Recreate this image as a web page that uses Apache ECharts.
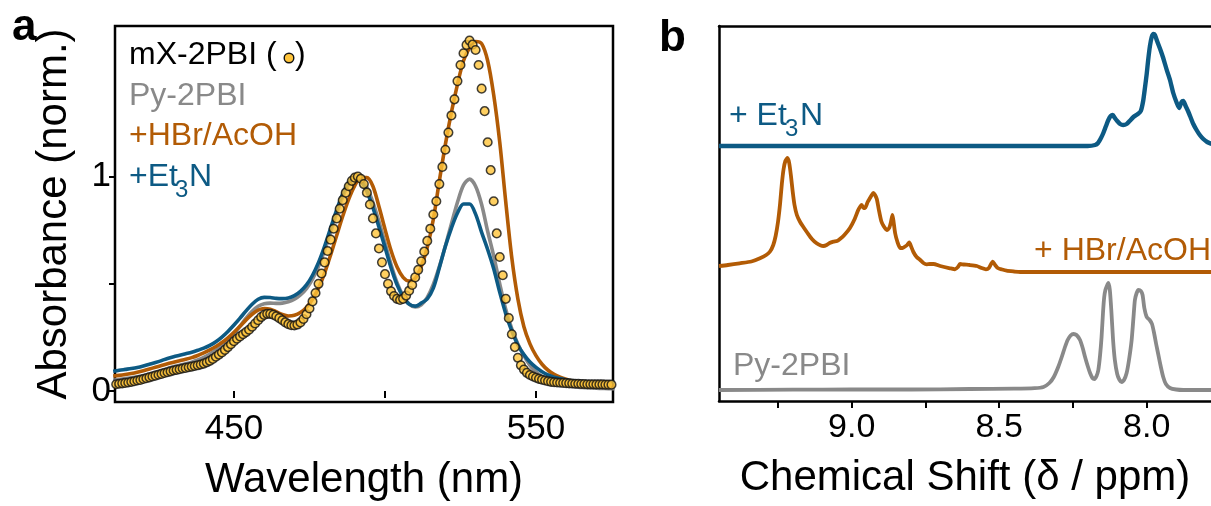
<!DOCTYPE html>
<html>
<head>
<meta charset="utf-8">
<script src="https://cdn.jsdelivr.net/npm/echarts@6/dist/echarts.min.js"></script>
<style>
  html, body { margin: 0; padding: 0; background: #fff; }
  #chart { width: 1211px; height: 506px; }
</style>
</head>
<body>
<div id="chart"></div>
<script>
// ---------- UV-vis absorption (panel a) ----------
// solid traces sampled every 2 nm starting at 410 nm
const uvLineStartNm = 410;
const uvLineStepNm = 2;
const absPy2PBI = [
  0.050, 0.054, 0.058, 0.062, 0.067, 0.073, 0.080, 0.088, 0.096, 0.105,
  0.113, 0.120, 0.127, 0.135, 0.145, 0.157, 0.172, 0.190, 0.212, 0.238,
  0.268, 0.303, 0.340, 0.372, 0.395, 0.407, 0.410, 0.409, 0.410, 0.416,
  0.428, 0.448, 0.478, 0.522, 0.582, 0.655, 0.740, 0.828, 0.905, 0.965,
  0.997, 0.990, 0.950, 0.880, 0.790, 0.690, 0.590, 0.505, 0.443, 0.405,
  0.392, 0.402, 0.437, 0.497, 0.580, 0.677, 0.780, 0.880, 0.960, 0.988,
  0.955, 0.870, 0.745, 0.630, 0.500, 0.380, 0.290, 0.220, 0.165, 0.120,
  0.090, 0.068, 0.052, 0.040, 0.032, 0.026, 0.021, 0.018, 0.016, 0.014,
  0.013, 0.012, 0.011, 0.011
];
const absHBr = [
  0.070, 0.073, 0.077, 0.082, 0.088, 0.095, 0.103, 0.111, 0.119, 0.127,
  0.134, 0.141, 0.148, 0.156, 0.166, 0.178, 0.192, 0.208, 0.226, 0.248,
  0.274, 0.302, 0.332, 0.358, 0.377, 0.385, 0.382, 0.370, 0.357, 0.350,
  0.353, 0.366, 0.390, 0.428, 0.480, 0.550, 0.635, 0.725, 0.815, 0.895,
  0.958, 0.995, 0.995, 0.955, 0.860, 0.755, 0.655, 0.578, 0.530, 0.513,
  0.525, 0.580, 0.670, 0.800, 0.980, 1.150, 1.300, 1.430, 1.540, 1.600,
  1.630, 1.620, 1.540, 1.380, 1.160, 0.880, 0.620, 0.430, 0.300, 0.220,
  0.165, 0.125, 0.097, 0.078, 0.065, 0.055, 0.047, 0.041, 0.036, 0.032,
  0.029, 0.027, 0.025, 0.025
];
const absEt3N = [
  0.092, 0.097, 0.101, 0.105, 0.110, 0.117, 0.125, 0.133, 0.142, 0.152,
  0.160, 0.167, 0.174, 0.181, 0.190, 0.200, 0.213, 0.230, 0.252, 0.278,
  0.308, 0.340, 0.374, 0.405, 0.428, 0.437, 0.436, 0.432, 0.431, 0.434,
  0.445, 0.465, 0.495, 0.540, 0.600, 0.675, 0.760, 0.845, 0.920, 0.975,
  0.998, 0.980, 0.930, 0.855, 0.765, 0.670, 0.575, 0.495, 0.440, 0.405,
  0.396, 0.410, 0.430, 0.480, 0.575, 0.675, 0.760, 0.830, 0.872, 0.872,
  0.825, 0.740, 0.660, 0.570, 0.460, 0.360, 0.280, 0.215, 0.170, 0.135,
  0.110, 0.090, 0.075, 0.065, 0.058, 0.052, 0.048, 0.045, 0.043, 0.042,
  0.041, 0.040, 0.040, 0.040
];
// open-circle trace sampled every 1 nm starting at 410 nm
const dotStartNm = 410;
const absMX2PBI = [
  0.030, 0.032, 0.034, 0.036, 0.038, 0.040, 0.043, 0.046, 0.049, 0.052,
  0.056, 0.060, 0.064, 0.068, 0.072, 0.076, 0.080, 0.084, 0.088, 0.092,
  0.096, 0.099, 0.102, 0.105, 0.108, 0.111, 0.114, 0.117, 0.120, 0.124,
  0.128, 0.134, 0.141, 0.150, 0.160, 0.170, 0.180, 0.192, 0.205, 0.218,
  0.232, 0.244, 0.255, 0.265, 0.275, 0.286, 0.300, 0.315, 0.330, 0.345,
  0.355, 0.360, 0.360, 0.356, 0.349, 0.340, 0.330, 0.320, 0.312, 0.307,
  0.306, 0.310, 0.320, 0.336, 0.358, 0.385, 0.418, 0.457, 0.500, 0.548,
  0.600, 0.653, 0.706, 0.757, 0.805, 0.850, 0.890, 0.925, 0.955, 0.980,
  0.995, 1.000, 0.990, 0.965, 0.925, 0.870, 0.805, 0.735, 0.665, 0.600,
  0.545, 0.500, 0.465, 0.443, 0.430, 0.425, 0.430, 0.445, 0.468, 0.495,
  0.530, 0.565, 0.605, 0.650, 0.700, 0.757, 0.823, 0.885, 0.965, 1.045,
  1.125, 1.205, 1.285, 1.360, 1.445, 1.520, 1.575, 1.614, 1.634, 1.615,
  1.590, 1.520, 1.410, 1.305, 1.160, 1.030, 0.885, 0.735, 0.625, 0.540,
  0.430, 0.340, 0.265, 0.205, 0.155, 0.120, 0.100, 0.085, 0.075, 0.068,
  0.062, 0.057, 0.053, 0.049, 0.046, 0.043, 0.041, 0.040, 0.039, 0.038,
  0.037, 0.036, 0.035, 0.034, 0.034, 0.033, 0.033, 0.032, 0.032, 0.032,
  0.031, 0.031, 0.031, 0.030, 0.030, 0.030
];
const nmTicks = [450, 500, 550];
const nmTickLabels = [450, 550];
const absTicks = [0, 0.5, 1];
const absTickLabels = [0, 1];

// ---------- 1H NMR, aromatic region (panel b) ----------
// [chemical shift (ppm), intensity above the trace's own baseline]
const nmrPy2PBI = [
  [9.45, 0], [9.2, 0.3], [9.0, 0.5], [8.8, 0.5], [8.6, 1], [8.45, 1.3], [8.38, 1.8],
  [8.35, 3], [8.33, 7], [8.315, 13], [8.30, 23], [8.288, 33], [8.277, 43], [8.268, 50],
  [8.258, 54.5], [8.248, 56], [8.238, 55], [8.226, 50], [8.217, 42], [8.209, 33],
  [8.200, 24], [8.192, 17], [8.184, 12], [8.177, 11], [8.170, 14], [8.164, 20],
  [8.158, 35], [8.153, 53], [8.148, 78], [8.144, 93], [8.140, 100], [8.135, 104],
  [8.130, 107], [8.125, 100], [8.120, 80], [8.114, 50], [8.108, 30], [8.100, 16],
  [8.092, 10], [8.085, 8], [8.077, 10], [8.068, 17], [8.060, 30], [8.051, 50],
  [8.045, 72], [8.040, 90], [8.034, 97], [8.028, 100], [8.020, 99], [8.014, 95],
  [8.008, 82], [8.000, 73], [7.990, 70], [7.982, 66], [7.975, 57], [7.968, 46],
  [7.961, 36], [7.952, 23], [7.944, 13], [7.935, 6], [7.921, 2], [7.90, 0.5],
  [7.876, 0], [7.78, 0]
];
const nmrHBr = [
  [9.45, 6], [9.42, 7], [9.38, 8.7], [9.34, 10.5], [9.311, 13.7], [9.29, 17], [9.277, 20.5],
  [9.266, 27], [9.258, 36], [9.250, 50], [9.243, 68], [9.237, 88], [9.231, 103],
  [9.225, 111], [9.218, 114], [9.212, 109], [9.206, 96], [9.200, 80], [9.194, 67],
  [9.186, 57], [9.175, 50], [9.164, 45], [9.150, 39], [9.135, 33], [9.119, 28.7],
  [9.105, 26.5], [9.096, 26], [9.085, 27], [9.075, 29], [9.062, 30.3], [9.050, 31],
  [9.040, 33], [9.025, 37], [9.006, 44], [8.990, 53], [8.978, 62], [8.970, 66],
  [8.966, 67], [8.960, 64], [8.955, 64], [8.946, 70], [8.938, 74], [8.932, 77],
  [8.927, 79], [8.921, 77], [8.915, 73], [8.908, 62], [8.900, 51], [8.892, 46],
  [8.881, 42], [8.873, 44], [8.867, 50], [8.862, 57], [8.858, 50], [8.853, 39],
  [8.845, 30], [8.836, 24], [8.828, 24], [8.819, 25.5], [8.812, 27], [8.805, 29.5],
  [8.798, 25], [8.791, 20], [8.780, 15], [8.768, 12], [8.757, 9], [8.746, 7.7],
  [8.735, 8], [8.723, 8], [8.700, 6], [8.667, 3.7], [8.650, 2.7], [8.640, 5],
  [8.633, 8], [8.620, 7.5], [8.600, 7], [8.576, 6], [8.560, 4], [8.545, 2.7],
  [8.535, 4], [8.522, 10.3], [8.514, 7], [8.505, 4], [8.490, 2.5], [8.475, 1.3],
  [8.450, 0.5], [8.429, 0], [7.78, 0]
];
const nmrEt3N = [
  [9.45, 0], [8.80, 0], [8.50, 0], [8.20, 0], [8.175, 1], [8.165, 3], [8.155, 8],
  [8.147, 13], [8.138, 20], [8.130, 26], [8.122, 30], [8.115, 31], [8.108, 28],
  [8.100, 25], [8.090, 22], [8.080, 21], [8.068, 22], [8.058, 25], [8.045, 29],
  [8.030, 32], [8.020, 35], [8.012, 45], [8.006, 58], [8.000, 72], [7.995, 86],
  [7.989, 100], [7.983, 109], [7.977, 112], [7.972, 111], [7.966, 106], [7.961, 102],
  [7.952, 95], [7.944, 88], [7.932, 76], [7.921, 66], [7.910, 53], [7.898, 43],
  [7.890, 38], [7.882, 44], [7.876, 45], [7.868, 40], [7.860, 35], [7.853, 30],
  [7.842, 22], [7.831, 16], [7.820, 11], [7.808, 7], [7.795, 4], [7.78, 2]
];
const ppmTicks = [9.25, 9.0, 8.75, 8.5, 8.25, 8.0];
const ppmTickLabels = [9.0, 8.5, 8.0];

// ---------- styling ----------
const FONT = '"Liberation Sans", Arial, Helvetica, sans-serif';
const C_GRAY = '#898989';
const C_ORANGE = '#B25B05';
const C_BLUE = '#0D5A84';
const C_DOT = '#FFC43A';
const INK = '#000';

// vertical stacking of the three NMR traces (y axis runs 0–375)
const stackBase = { py: 11, hbr: 129, et3n: 255 };

const sampled = (start, step, values) => values.map((v, i) => [start + i * step, v]);
const lifted = (pts, base) => pts.map(([x, y]) => [x, y + base]);

const chart = echarts.init(document.getElementById('chart'), null, { renderer: 'canvas' });

const uvLine = (name, values, color, z) => ({
  name, type: 'line', xAxisIndex: 0, yAxisIndex: 0, z,
  data: sampled(uvLineStartNm, uvLineStepNm, values),
  showSymbol: false, symbol: 'none', smooth: 0.3,
  lineStyle: { color, width: 3.6 }, silent: true
});
const nmrLine = (name, pts, base, color, z, width) => ({
  name, type: 'line', xAxisIndex: 1, yAxisIndex: 1, z,
  data: lifted(pts, base),
  showSymbol: false, symbol: 'none', smooth: 0.2,
  lineStyle: { color, width, join: 'round' }, silent: true
});

// plain text helper for graphic labels
const label = (x, y, text, size, fill, extra) => ({
  type: 'text', x, y,
  style: Object.assign({ text, font: size + 'px ' + FONT, fill, textVerticalAlign: 'middle' }, extra || {})
});

const option = {
  animation: false,
  backgroundColor: '#fff',
  textStyle: { fontFamily: FONT },
  grid: [
    { left: 115, top: 26, width: 498, height: 377, show: true, borderColor: INK, borderWidth: 2.5, backgroundColor: 'transparent' },
    { left: 719, top: 26, width: 492, height: 375 }
  ],
  xAxis: [
    {
      gridIndex: 0, type: 'value', min: 410.6, max: 575.5,
      axisLine: { show: false },
      axisTick: { show: true, inside: false, length: 7, lineStyle: { color: INK, width: 2 }, customValues: nmTicks },
      axisLabel: { customValues: nmTickLabels, fontSize: 35, color: INK, fontFamily: FONT, margin: 10 },
      splitLine: { show: false },
      name: 'Wavelength (nm)', nameLocation: 'middle', nameGap: 57,
      nameTextStyle: { fontSize: 42, color: INK, fontFamily: FONT }
    },
    {
      gridIndex: 1, type: 'value', inverse: true, min: 7.782, max: 9.45, position: 'bottom',
      axisLine: { show: true, onZero: false, lineStyle: { color: INK, width: 2.5 } },
      axisTick: { show: true, inside: false, length: 7, lineStyle: { color: INK, width: 2 }, customValues: ppmTicks },
      axisLabel: { customValues: ppmTickLabels, fontSize: 34, color: INK, fontFamily: FONT, margin: 10,
        formatter: v => Number(v).toFixed(1) },
      splitLine: { show: false },
      name: 'Chemical Shift (\u03B4 / ppm)', nameLocation: 'middle', nameGap: 56,
      nameTextStyle: { fontSize: 42, color: INK, fontFamily: FONT }
    },
    {
      gridIndex: 1, type: 'value', inverse: true, min: 7.782, max: 9.45, position: 'top',
      axisLine: { show: true, onZero: false, lineStyle: { color: INK, width: 2.5 } },
      axisTick: { show: false }, axisLabel: { show: false }, splitLine: { show: false }
    }
  ],
  yAxis: [
    {
      gridIndex: 0, type: 'value', min: -0.051, max: 1.702,
      axisLine: { show: false },
      axisTick: { show: true, inside: false, length: 6, lineStyle: { color: INK, width: 2 }, customValues: absTicks },
      axisLabel: { customValues: absTickLabels, fontSize: 35, color: INK, fontFamily: FONT, margin: 4 },
      splitLine: { show: false },
      name: 'Absorbance (norm.)', nameLocation: 'middle', nameGap: 40,
      nameTextStyle: { fontSize: 42, color: INK, fontFamily: FONT }
    },
    {
      gridIndex: 1, type: 'value', min: 0, max: 375,
      axisLine: { show: true, onZero: false, lineStyle: { color: INK, width: 2.5 } },
      axisTick: { show: false }, axisLabel: { show: false }, splitLine: { show: false }
    }
  ],
  series: [
    uvLine('Py-2PBI', absPy2PBI, C_GRAY, 2),
    uvLine('+HBr/AcOH', absHBr, C_ORANGE, 3),
    uvLine('+Et3N', absEt3N, C_BLUE, 4),
    {
      name: 'mX-2PBI', type: 'scatter', xAxisIndex: 0, yAxisIndex: 0, z: 5,
      data: sampled(dotStartNm, 1, absMX2PBI),
      symbol: 'circle', symbolSize: 8.6, silent: true,
      itemStyle: { color: C_DOT, borderColor: '#111', borderWidth: 1.5 }
    },
    nmrLine('Py-2PBI NMR', nmrPy2PBI, stackBase.py, C_GRAY, 2, 3.8),
    nmrLine('+HBr/AcOH NMR', nmrHBr, stackBase.hbr, C_ORANGE, 3, 3.8),
    nmrLine('+Et3N NMR', nmrEt3N, stackBase.et3n, C_BLUE, 4, 4.4)
  ],
  graphic: [
    // panel letters
    { type: 'text', x: 12, y: 28, style: { text: 'a', font: 'bold 44px ' + FONT, fill: INK, textVerticalAlign: 'middle' } },
    { type: 'text', x: 659, y: 39, style: { text: 'b', font: 'bold 44px ' + FONT, fill: INK, textVerticalAlign: 'middle' } },
    // panel a key
    label(129, 55, 'mX-2PBI (', 32, INK),
    { type: 'circle', shape: { cx: 289, cy: 58, r: 4.8 }, style: { fill: C_DOT, stroke: '#111', lineWidth: 1.4 } },
    label(295, 55, ')', 32, INK),
    label(129, 96, 'Py-2PBI', 32, C_GRAY),
    label(129, 136, '+HBr/AcOH', 32, C_ORANGE),
    label(129, 177, '+Et', 32, C_BLUE),
    label(175, 190, '3', 24, C_BLUE),
    label(189, 177, 'N', 32, C_BLUE),
    // panel b trace labels
    label(729, 116, '+ Et', 32, C_BLUE),
    label(785, 129, '3', 24, C_BLUE),
    label(800, 116, 'N', 32, C_BLUE),
    label(1211, 251, '+ HBr/AcOH', 32, C_ORANGE, { textAlign: 'right' }),
    label(733, 366, 'Py-2PBI', 32, C_GRAY)
  ]
};

chart.setOption(option);
</script>
</body>
</html>
